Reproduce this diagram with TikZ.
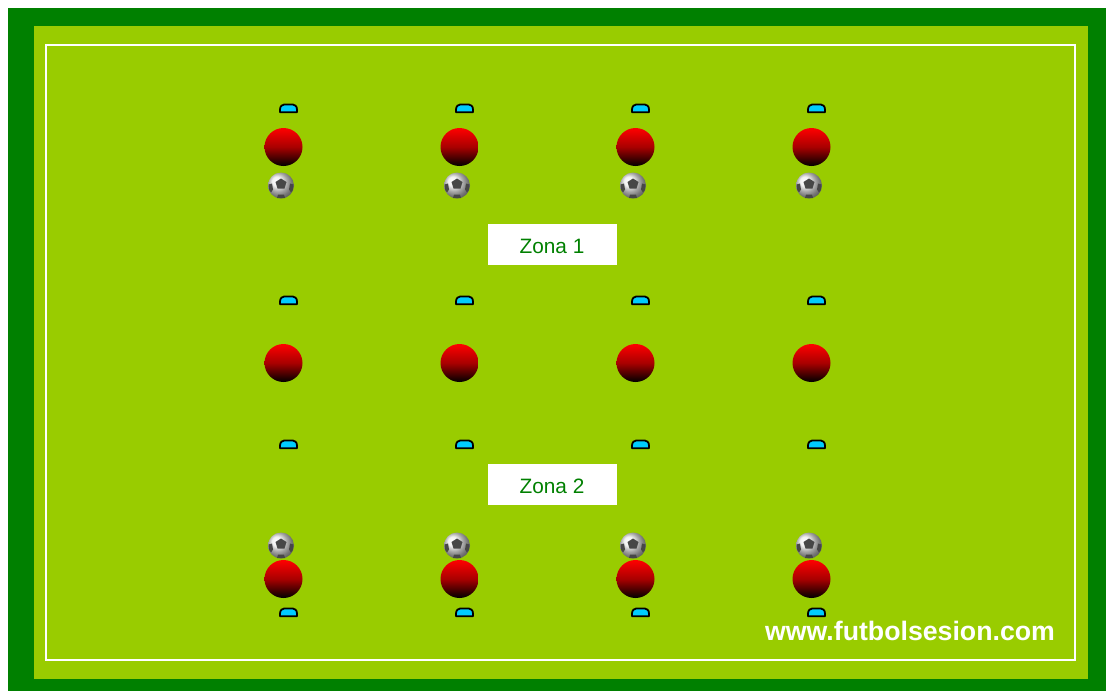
\documentclass[tikz,border=0pt]{standalone}
\usepackage{fontspec}
\setmainfont{Liberation Sans}
\usepackage{tikz}
\definecolor{fieldgreen}{HTML}{99CC00}
\definecolor{bordergreen}{HTML}{008000}
\definecolor{conecyan}{HTML}{00CCFF}
\tikzset{
    zonebox/.style={text=bordergreen, inner sep=0pt, font=\fontsize{20.8pt}{24pt}\selectfont},
    cone/.style={fill=conecyan, draw=black, line width=1.8pt, line join=round},
    player/.style={top color=red, bottom color=black, middle color=red!66!black},
    patch/.style={fill=black!72}
}
\begin{document}
\begin{tikzpicture}[x=1pt, y=-1pt]
    \useasboundingbox (0,0) rectangle (1106,691);

    % campo
    \fill[bordergreen] (8,8) rectangle (1106,691);
    \fill[fieldgreen] (34,26) rectangle (1088,679);
    \draw[white, line width=2pt] (46,45) rectangle (1075,660);

    % zonas
    \fill[white] (488,224) rectangle (617,265);
    \fill[white] (488,464) rectangle (617,505);
    \node[zonebox] (zona1) at (552,246) {Zona 1};
    \node[zonebox] (zona2) at (552,486) {Zona 2};

    % conos y jugadores
    \foreach \x in {283.5,459.5,635.5,811.5} {
        \foreach \y in {108,300,444,612} {
            \draw[cone] (\x-3.5,\y+4.2) -- (\x+13.5,\y+4.2) -- (\x+13.5,\y+1.5)
                .. controls (\x+13.5,\y-2) and (\x+11,\y-3.6) .. (\x+9,\y-3.6)
                -- (\x+1,\y-3.6)
                .. controls (\x-1,\y-3.6) and (\x-3.5,\y-2) .. (\x-3.5,\y+1.5) -- cycle;
        }
        \foreach \y in {147,363,579} {
            \shade[player] (\x,\y) circle (19);
        }
    }

    % balones
    \foreach \x in {281,457,633,809} {
        \foreach \y in {185.5,545.5} {
            \shade[ball color=black!7] (\x,\y) circle (13);
            \fill[patch] (\x,\y-7) -- ++(5.5,3.5) -- ++(-2,6.5) -- ++(-7,0) -- ++(-2,-6.5) -- cycle;
            \fill[patch] (\x-12.5,\y-1) -- (\x-9,\y-2) -- (\x-8,\y+4) -- (\x-10,\y+7) .. controls (\x-12,\y+5) .. cycle;
            \fill[patch] (\x+12.5,\y-1) -- (\x+9,\y-2) -- (\x+8,\y+4) -- (\x+10,\y+7) .. controls (\x+12,\y+5) .. cycle;
            \fill[patch] (\x-4,\y+12.5) -- (\x-3,\y+9) -- (\x+3,\y+9) -- (\x+4,\y+12.5) -- cycle;
        }
    }

    % web
    \node[text=white, font=\fontsize{26.7pt}{30pt}\selectfont\bfseries, inner sep=0pt] (web) at (910,631) {www.futbolsesion.com};
\end{tikzpicture}
\end{document}
